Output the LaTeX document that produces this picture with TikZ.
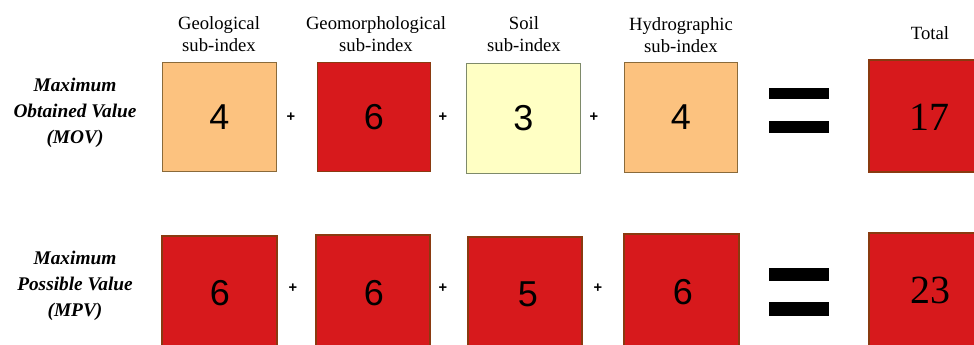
\documentclass[tikz,border=0pt]{standalone}
\usepackage{fontspec}
\setmainfont{Liberation Serif}
\newfontfamily\numfont{Liberation Sans}
\definecolor{cred}{HTML}{D7191C}
\definecolor{corange}{HTML}{FCC27F}
\definecolor{cyellow}{HTML}{FFFFC4}
\definecolor{edgered}{HTML}{8A3A10}
\definecolor{edgeor}{HTML}{8A6A3A}
\definecolor{edgeye}{HTML}{7E8A6A}
\begin{document}
\begin{tikzpicture}[x=0.75pt,y=-0.75pt,
  valbox/.style={draw, line width=0.8pt, minimum width=85pt, minimum height=82pt, inner sep=0pt, font=\numfont\fontsize{27}{30}\selectfont},
  redbox/.style={valbox, fill=cred, draw=edgered},
  orbox/.style={valbox, fill=corange, draw=edgeor},
  yebox/.style={valbox, fill=cyellow, draw=edgeye},
  hdr/.style={align=center, font=\fontsize{14}{16}\selectfont, inner sep=0pt},
  rowlab/.style={align=center, font=\bfseries\itshape\fontsize{14.5}{19.5}\selectfont, inner sep=0pt},
  plus/.style={font=\numfont\bfseries\fontsize{11}{12}\selectfont, inner sep=0pt},
  numtxt/.style={font=\numfont\fontsize{27}{30}\selectfont, inner sep=0pt},
  tottxt/.style={font=\fontsize{30}{32}\selectfont, inner sep=0pt},
  bar/.style={fill=black, draw=none},
  edge/.style={draw=edgered, line width=0.8pt}]
\useasboundingbox (0,0) rectangle (974,344);
% headers
\node[hdr] (h1) at (219,34) {Geological\\sub-index};
\node[hdr] (h2) at (376,34) {Geomorphological\\sub-index};
\node[hdr] (h3) at (524,34) {Soil\\sub-index};
\node[hdr] (h4) at (681,35) {Hydrographic\\sub-index};
\node[hdr] (h5) at (930,33) {Total};
% row labels
\node[rowlab] (l1) at (75,113) {Maximum\\Obtained Value\\(MOV)};
\node[rowlab] (l2) at (75,286) {Maximum\\Possible Value\\(MPV)};
% top row
\node[orbox] (a1) at (219.5,117) {4};
\node[redbox] (a2) at (374,117) {6};
\node[yebox] (a3) at (523.5,118.5) {3};
\node[orbox] (a4) at (681,117.5) {4};
\fill[cred] (869,60) rectangle (974,172);
\draw[edge] (974,60) -- (869,60) -- (869,172) -- (974,172);
\node[tottxt] (a5) at (929,117) {17};
\node[plus] (p1) at (291,117) {+};
\node[plus] (p2) at (443,117) {+};
\node[plus] (p3) at (594,117) {+};
\fill[bar] (769,88) rectangle (829,99);
\fill[bar] (769,121) rectangle (829,133);
% bottom row
\fill[cred] (162,236) rectangle (277,346);
\draw[edge] (162,346) -- (162,236) -- (277,236) -- (277,346);
\fill[cred] (316,235) rectangle (430,346);
\draw[edge] (316,346) -- (316,235) -- (430,235) -- (430,346);
\fill[cred] (468,237) rectangle (582,346);
\draw[edge] (468,346) -- (468,237) -- (582,237) -- (582,346);
\fill[cred] (624,234) rectangle (739,346);
\draw[edge] (624,346) -- (624,234) -- (739,234) -- (739,346);
\fill[cred] (869,233) rectangle (974,346);
\draw[edge] (974,233) -- (869,233) -- (869,346);
\node[numtxt] (b1) at (220,293) {6};
\node[numtxt] (b2) at (374,293) {6};
\node[numtxt] (b3) at (528,294) {5};
\node[numtxt] (b4) at (683,292) {6};
\node[tottxt] (b5) at (930,290) {23};
\node[plus] (q1) at (293,288) {+};
\node[plus] (q2) at (443,288) {+};
\node[plus] (q3) at (598,288) {+};
\fill[bar] (769,268) rectangle (829,281);
\fill[bar] (769,302) rectangle (829,316);
\end{tikzpicture}
\end{document}
